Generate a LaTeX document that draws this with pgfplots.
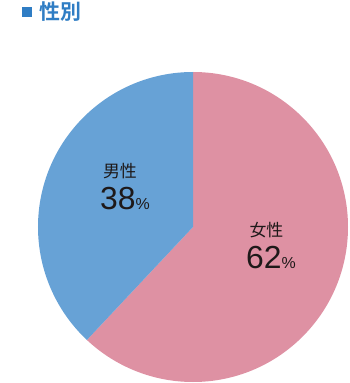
\documentclass[border=0pt]{standalone}
\usepackage{pgfplots}
\usepackage{pgfplotstable}
\pgfplotsset{compat=1.18}
\usepackage{fontspec}
\setmainfont{Liberation Sans}
\newfontfamily\cjk{Noto Sans CJK JP}
\newfontfamily\cjkb{Noto Sans CJK JP Bold}
\definecolor{pinkc}{RGB}{222,145,163}
\definecolor{bluec}{RGB}{103,162,214}
\definecolor{titleblue}{RGB}{47,125,196}
\definecolor{txt}{RGB}{30,25,25}
\pgfplotstableread{
label value
female 62
male 38
}\piedata
\begin{document}
\begin{tikzpicture}[x=1bp,y=1bp]
\pgfplotstablegetelem{0}{value}\of\piedata \let\vf\pgfplotsretval
\pgfplotstablegetelem{1}{value}\of\piedata \let\vm\pgfplotsretval
\pgfmathsetmacro\af{90-3.6*\vf}
\useasboundingbox (0,0) rectangle (350,383);
\fill[titleblue] (22,366) rectangle (32,376);
\node[anchor=west, inner sep=0pt, text=titleblue, font=\cjkb\fontsize{21}{23}\selectfont] at (39,371) {性別};
\begin{axis}[
  at={(38bp,1bp)}, anchor=south west,
  width=310bp, height=310bp, scale only axis,
  xmin=-1, xmax=1, ymin=-1, ymax=1,
  hide axis, clip=false,
]
\fill[pinkc] (axis cs:0,0) -- (axis cs:0,1) arc[start angle=90, end angle=\af, radius=155bp] -- cycle;
\fill[bluec] (axis cs:0,0) -- (axis cs:0,1) arc[start angle=90, end angle=\af+360, radius=155bp] -- cycle;
\node[text=txt, font=\cjk\fontsize{17}{19}\selectfont, inner sep=0pt] at (axis cs:-0.471,0.361) {男性};
\node[text=txt, inner sep=0pt] at (axis cs:-0.439,0.184) {\fontsize{32}{34}\selectfont\vm\fontsize{16}{18}\selectfont\%};
\node[text=txt, font=\cjk\fontsize{17}{19}\selectfont, inner sep=0pt] at (axis cs:0.474,-0.019) {女性};
\node[text=txt, inner sep=0pt] at (axis cs:0.503,-0.194) {\fontsize{32}{34}\selectfont\vf\fontsize{16}{18}\selectfont\%};
\end{axis}
\end{tikzpicture}
\end{document}
